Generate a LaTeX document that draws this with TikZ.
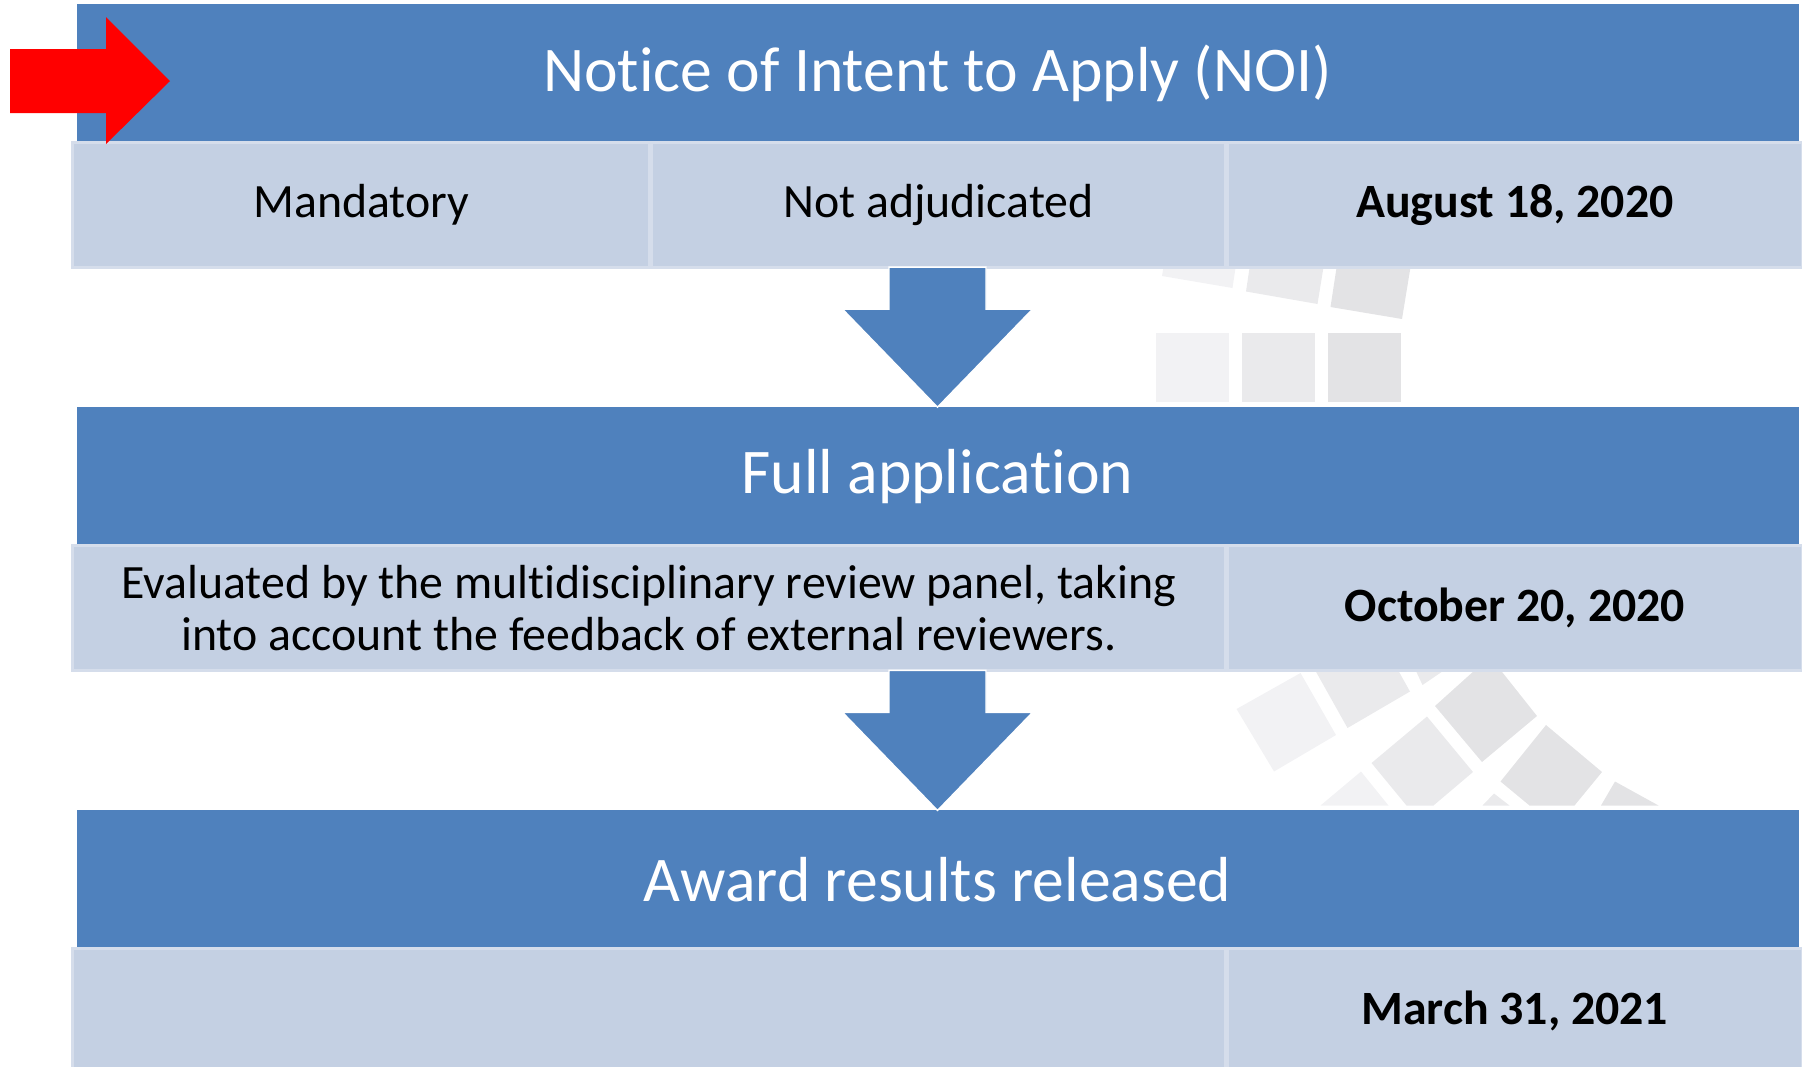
\documentclass[tikz,border=0pt]{standalone}
\usepackage{fontspec}
\setmainfont{Carlito}[Ligatures=NoCommon]
\usetikzlibrary{positioning, calc}

\definecolor{headblue}{HTML}{4F81BD}
\definecolor{cellblue}{HTML}{C4D0E3}
\definecolor{cellline}{HTML}{D5DDEB}
\definecolor{tileA}{HTML}{F2F2F4}
\definecolor{tileB}{HTML}{EAEAEC}
\definecolor{tileC}{HTML}{E3E3E5}

\begin{document}
\begin{tikzpicture}[
	x=0.01cm, y=-0.01cm,
	header/.style={rectangle, fill=headblue, text=white, minimum width=17.21cm, minimum height=1.38cm, inner sep=0pt, outer sep=0pt, font=\fontsize{18.1}{21.7}\selectfont},
	cell/.style={rectangle, fill=cellblue, draw=cellline, line width=0.03cm, minimum height=1.25cm, inner sep=0pt, outer sep=0pt, align=center, font=\fontsize{13.6}{14.8}\selectfont},
	datecell/.style={cell, minimum width=5.75cm, font=\fontsize{13.6}{14.8}\selectfont\bfseries},
	flow/.style={fill=headblue, draw=white, line width=0.4pt}
	]
	\useasboundingbox (0,0) rectangle (1802,1066);
	
	% Background tiles
	\fill[tileA] (1165,258) -- (1162,276) -- (1232.5,288) -- (1237,258) -- cycle;
	\fill[tileB] (1251,258) -- (1246,291.5) -- (1317.5,304) -- (1325,258) -- cycle;
	\fill[tileC] (1338,258) -- (1330.5,307) -- (1402,319) -- (1412,258) -- cycle;
	\fill[tileA] (1156,333) rectangle (1229,402);
	\fill[tileB] (1242,333) rectangle (1315,402);
	\fill[tileC] (1328,333) rectangle (1401,402);
	\fill[tileA] (1300.5,673) -- (1336,735) -- (1274,771.5) -- (1236.5,709) -- cycle;
	\fill[tileB] (1315,670) -- (1347.5,728) -- (1410,691.5) -- (1398,670) -- cycle;
	\fill[tileB] (1415.5,670) -- (1422.5,685) -- (1444.5,670) -- cycle;
	\fill[tileC] (1435,706) -- (1475,670) -- (1500.5,670) -- (1537,716) -- (1482,762) -- cycle;
	\fill[tileB] (1371.5,763) -- (1427,716.5) -- (1473,772) -- (1433.5,805.5) -- (1406.5,805.5) -- cycle;
	\fill[tileC] (1500.5,781.5) -- (1546,725) -- (1602,772) -- (1574.5,805.5) -- (1529.5,805.5) -- cycle;
	\fill[tileA] (1320.5,805.5) -- (1361,771.5) -- (1388.5,805.5) -- cycle;
	\fill[tileB] (1482.5,805.5) -- (1494,793.5) -- (1509.5,805.5) -- cycle;
	\fill[tileC] (1601,805.5) -- (1615,781.5) -- (1658.5,805.5) -- cycle;
	
	% Notice of intent
	\node[header] (noi) at (937.5,73) {Notice of Intent to Apply (NOI)};
	\node[cell, minimum width=5.77cm, below right=0cm and -0.04cm of noi.south west] (mandatory) {Mandatory};
	\node[cell, minimum width=5.73cm, right=0.02cm of mandatory] (notadj) {Not adjudicated};
	\node[datecell, right=0.02cm of notadj] (noidate) {August 18, 2020};
	
	% Full application
	\node[header, below right=1.40cm and 0.04cm of mandatory.south west] (fullapp) {Full application};
	\node[cell, minimum width=11.52cm, below right=0cm and -0.04cm of fullapp.south west] (panel) {Evaluated by the multidisciplinary review panel, taking\\into account the feedback of external reviewers.};
	\node[datecell, right=0.02cm of panel] (fulldate) {October 20, 2020};
	
	% Award results
	\node[header, below right=1.40cm and 0.04cm of panel.south west] (award) {Award results released};
	\node[cell, minimum width=11.52cm, below right=0cm and -0.04cm of award.south west] (blank) {};
	\node[datecell, right=0.02cm of blank] (awarddate) {March 31, 2021};
	
	% Arrows
	\filldraw[flow] ($(fullapp.north |- notadj.south)+(-48.5,0)$) -- ++(0,42) -- ++(-46.5,0) -- (fullapp.north)
		-- ($(fullapp.north)+(95,-98)$) -- ++(-46.5,0) -- ++(0,-42) -- cycle;
	\filldraw[flow] ($(award.north |- panel.south)+(-48.5,0)$) -- ++(0,42) -- ++(-46.5,0) -- (award.north)
		-- ($(award.north)+(95,-98)$) -- ++(-46.5,0) -- ++(0,-42) -- cycle;
	
	% Current step
	\fill[red] (10,49) -- (106,49) -- (106,17) -- (170,81) -- (106,144) -- (106,113) -- (10,113) -- cycle;
	
\end{tikzpicture}
\end{document}
